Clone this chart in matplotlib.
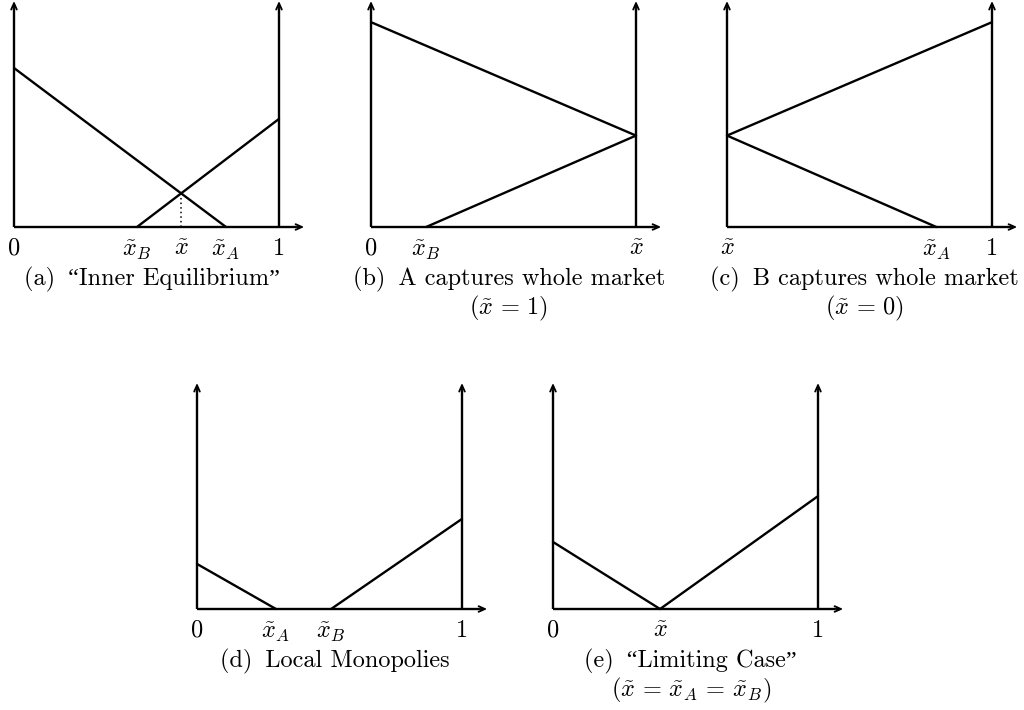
import matplotlib
matplotlib.use("Agg")
import matplotlib.pyplot as plt

plt.rcParams['font.family'] = ['cmr10', 'Liberation Serif', 'DejaVu Serif']
plt.rcParams['mathtext.fontset'] = 'cm'
plt.rcParams['axes.formatter.use_mathtext'] = True

# ---------------- data (x in [0,1], y in units of the x-axis length) ----------------
# (a) Inner Equilibrium
a_lineA_x = [0.0, 0.80]
a_lineA_y = [0.60, 0.0]
a_lineB_x = [0.464, 1.0]
a_lineB_y = [0.0, 0.408]
a_cross_x = 0.63
a_cross_y = 0.127
a_tick_pos = [0.0, 0.464, 0.63, 0.80, 1.0]
a_tick_lab = ['0', r'$\tilde{x}_B$', r'$\tilde{x}$', r'$\tilde{x}_A$', '1']
a_caption = ['(a) \u2009\u201cInner Equilibrium\u201d']

# (b) A captures whole market
b_lineA_x = [0.0, 1.0]
b_lineA_y = [0.773, 0.345]
b_lineB_x = [0.208, 1.0]
b_lineB_y = [0.0, 0.345]
b_tick_pos = [0.0, 0.208, 1.0]
b_tick_lab = ['0', r'$\tilde{x}_B$', r'$\tilde{x}$']
b_caption = ['(b) \u2009A captures whole market', r'$(\tilde{x}\, =\, 1)$']

# (c) B captures whole market
c_lineA_x = [0.0, 0.79]
c_lineA_y = [0.345, 0.0]
c_lineB_x = [0.0, 1.0]
c_lineB_y = [0.345, 0.773]
c_tick_pos = [0.0, 0.79, 1.0]
c_tick_lab = [r'$\tilde{x}$', r'$\tilde{x}_A$', '1']
c_caption = ['(c) \u2009B captures whole market', r'$(\tilde{x}\, =\, 0)$']

# (d) Local Monopolies
d_lineA_x = [0.0, 0.298]
d_lineA_y = [0.17, 0.0]
d_lineB_x = [0.506, 1.0]
d_lineB_y = [0.0, 0.34]
d_tick_pos = [0.0, 0.298, 0.506, 1.0]
d_tick_lab = ['0', r'$\tilde{x}_A$', r'$\tilde{x}_B$', '1']
d_caption = ['(d) \u2009Local Monopolies']

# (e) Limiting Case
e_lineA_x = [0.0, 0.404]
e_lineA_y = [0.253, 0.0]
e_lineB_x = [0.404, 1.0]
e_lineB_y = [0.0, 0.426]
e_tick_pos = [0.0, 0.404, 1.0]
e_tick_lab = ['0', r'$\tilde{x}$', '1']
e_caption = ['(e) \u2009\u201cLimiting Case\u201d',
             r'$(\tilde{x}\, =\, \tilde{x}_A\, =\, \tilde{x}_B)$']

# ---------------- layout ----------------
W, H = 1024, 710
S = 265.0              # pixels per data unit
X0, X1 = -0.12, 1.25
Y0, Y1 = -0.42, 0.90
AX_TOP = 0.853
AX_RIGHT = 1.095
LW = 1.7
FS = 17.5

fig = plt.figure(figsize=(W / 100, H / 100), dpi=100)


def make_panel(ox, oy):
    left = (ox + X0 * S) / W
    bottom = (H - oy + Y0 * S) / H
    ax = fig.add_axes([left, bottom, (X1 - X0) * S / W, (Y1 - Y0) * S / H])
    ax.set_xlim(X0, X1)
    ax.set_ylim(Y0, Y1)
    ax.axis('off')
    ax.patch.set_visible(False)
    return ax


def arrow(ax, x0, y0, x1, y1):
    ax.annotate('', xy=(x1, y1), xytext=(x0, y0),
                arrowprops=dict(arrowstyle='->,head_length=0.45,head_width=0.2',
                                lw=LW * 0.8, color='black',
                                shrinkA=0, shrinkB=0),
                annotation_clip=False)


def draw(ax, lines, tick_pos, tick_lab, caption):
    # axes
    ax.plot([0, 0], [0, AX_TOP - 0.03], color='black', lw=LW, solid_capstyle='butt')
    ax.plot([1, 1], [0, AX_TOP - 0.03], color='black', lw=LW, solid_capstyle='butt')
    ax.plot([0, AX_RIGHT - 0.03], [0, 0], color='black', lw=LW, solid_capstyle='butt')
    arrow(ax, 0, AX_TOP - 0.05, 0, AX_TOP)
    arrow(ax, 1, AX_TOP - 0.05, 1, AX_TOP)
    arrow(ax, AX_RIGHT - 0.05, 0, AX_RIGHT, 0)
    for xs, ys in lines:
        ax.plot(xs, ys, color='black', lw=LW, solid_capstyle='round')
    for p, lab in zip(tick_pos, tick_lab):
        ax.text(p, -0.040, lab, ha='center', va='top', fontsize=FS)
    ax.text(0.52, -0.196, caption[0], ha='center', va='center', fontsize=FS)
    if len(caption) > 1:
        ax.text(0.52, -0.306, caption[1], ha='center', va='center', fontsize=FS)


ax_a = make_panel(14, 227)
draw(ax_a, [(a_lineA_x, a_lineA_y), (a_lineB_x, a_lineB_y)], a_tick_pos, a_tick_lab, a_caption)
ax_a.plot([a_cross_x, a_cross_x], [0, a_cross_y], color='black', lw=1.1, ls=(0, (1, 2)))

ax_b = make_panel(371, 227)
draw(ax_b, [(b_lineA_x, b_lineA_y), (b_lineB_x, b_lineB_y)], b_tick_pos, b_tick_lab, b_caption)

ax_c = make_panel(727, 227)
draw(ax_c, [(c_lineA_x, c_lineA_y), (c_lineB_x, c_lineB_y)], c_tick_pos, c_tick_lab, c_caption)

ax_d = make_panel(197, 609)
draw(ax_d, [(d_lineA_x, d_lineA_y), (d_lineB_x, d_lineB_y)], d_tick_pos, d_tick_lab, d_caption)

ax_e = make_panel(553, 609)
draw(ax_e, [(e_lineA_x, e_lineA_y), (e_lineB_x, e_lineB_y)], e_tick_pos, e_tick_lab, e_caption)

fig.savefig('out.png', dpi=100, facecolor='white')
